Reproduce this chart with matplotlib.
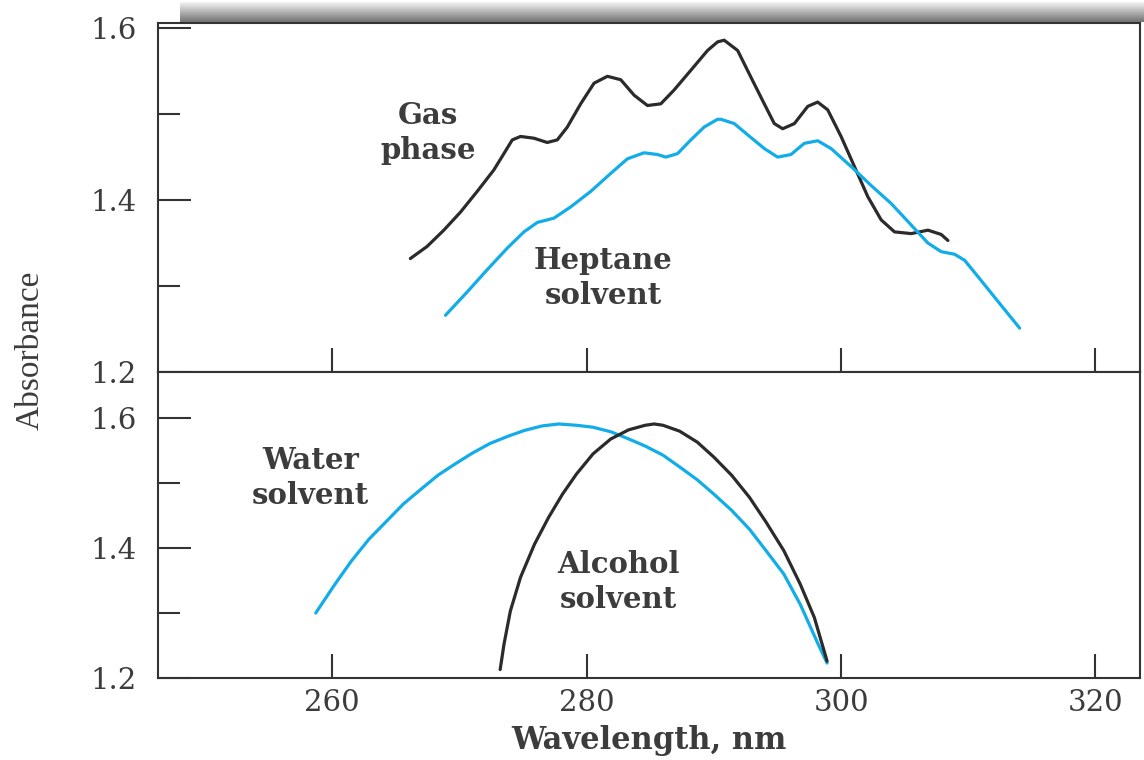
import matplotlib.pyplot as plt
import numpy as np

# gas phase / heptane solvent (top panel)
gas_wl = [266.14, 267.45, 268.77, 270.08, 271.39, 272.70, 273.49, 274.15, 274.80, 275.85,
          276.90, 277.69, 278.48, 279.53, 280.58, 281.63, 282.68, 283.73, 284.78, 285.83,
          286.87, 288.19, 289.50, 290.29, 290.81, 291.87, 292.91, 293.96, 294.75, 295.41,
          296.33, 297.38, 298.16, 298.95, 300.00, 301.05, 302.10, 303.15, 304.20, 305.51,
          306.83, 307.87, 308.40]
gas_abs = [1.332, 1.346, 1.365, 1.386, 1.410, 1.435, 1.454, 1.470, 1.474, 1.472,
           1.467, 1.470, 1.485, 1.512, 1.536, 1.544, 1.540, 1.522, 1.510, 1.512,
           1.528, 1.551, 1.574, 1.584, 1.586, 1.574, 1.543, 1.512, 1.489, 1.483,
           1.489, 1.509, 1.514, 1.505, 1.474, 1.439, 1.404, 1.377, 1.363, 1.361,
           1.365, 1.360, 1.353]
hep_wl = [268.90, 270.60, 272.18, 273.75, 275.07, 276.12, 277.43, 278.74, 280.31, 281.89,
          283.20, 284.51, 285.57, 286.22, 287.14, 288.19, 289.24, 290.29, 290.55, 291.60,
          292.65, 293.96, 295.01, 296.06, 297.11, 298.16, 299.21, 300.79, 302.36, 303.94,
          305.51, 306.83, 307.87, 308.92, 309.71, 310.76, 312.34, 314.04]
hep_abs = [1.266, 1.293, 1.319, 1.344, 1.363, 1.374, 1.379, 1.392, 1.410, 1.431,
           1.448, 1.455, 1.453, 1.450, 1.454, 1.470, 1.485, 1.494, 1.494, 1.489,
           1.476, 1.460, 1.450, 1.453, 1.466, 1.469, 1.460, 1.439, 1.417, 1.396,
           1.371, 1.350, 1.340, 1.337, 1.330, 1.311, 1.282, 1.251]

# water / alcohol solvent (bottom panel)
wat_wl = [258.7, 260.2, 261.5, 262.9, 264.3, 265.6, 267.0, 268.3, 269.7, 271.0,
          272.4, 273.8, 275.1, 276.5, 277.8, 279.2, 280.5, 281.9, 283.3, 284.6,
          286.0, 287.3, 288.7, 290.0, 291.4, 292.8, 294.1, 295.5, 296.8, 298.2, 298.9]
wat_abs = [1.300, 1.344, 1.380, 1.414, 1.442, 1.468, 1.491, 1.512, 1.530, 1.546,
           1.561, 1.572, 1.581, 1.588, 1.591, 1.589, 1.586, 1.579, 1.568, 1.557,
           1.543, 1.525, 1.505, 1.483, 1.458, 1.429, 1.396, 1.360, 1.313, 1.252, 1.223]
alc_wl = [273.2, 273.5, 274.0, 274.8, 275.9, 277.0, 278.1, 279.2, 280.5, 281.9,
          283.3, 284.6, 285.3, 286.0, 287.3, 288.7, 290.0, 291.4, 292.8, 294.1, 295.5,
          296.8, 297.9, 298.9]
alc_abs = [1.213, 1.252, 1.303, 1.355, 1.406, 1.447, 1.483, 1.514, 1.545, 1.568,
           1.582, 1.589, 1.591, 1.589, 1.580, 1.563, 1.540, 1.512, 1.478, 1.440, 1.396,
           1.344, 1.293, 1.226]

blue = '#12ADE8'
dark = '#2b2b2b'
txt = '#3c3c3c'
plt.rcParams['font.family'] = ['DejaVu Serif']

fig = plt.figure(figsize=(11.44, 7.6), dpi=100)
W, H = 1144., 760.
ax1 = fig.add_axes([158/W, (H-372)/H, 982/W, 349/H])
ax2 = fig.add_axes([158/W, (H-678)/H, 982/W, 306/H])

# grey shadow bar along the top
axb = fig.add_axes([180/W, (H-22)/H, 1-180/W, 20/H])
grad = np.linspace(0.95, 0.45, 50).reshape(-1, 1)
axb.imshow(grad, cmap='gray', vmin=0, vmax=1, aspect='auto')
axb.axis('off')

lkw = dict(lw=2.3, solid_joinstyle='round', solid_capstyle='round')
ax1.plot(gas_wl, gas_abs, color=dark, **lkw)
ax1.plot(hep_wl, hep_abs, color=blue, **lkw)
ax2.plot(wat_wl, wat_abs, color=blue, **lkw)
ax2.plot(alc_wl, alc_abs, color=dark, **lkw)

ax1.set_ylim(1.2, 1.606)
ax2.set_ylim(1.2, 1.671)
for ax in (ax1, ax2):
    ax.set_xlim(246.3, 323.5)
    ax.set_xticks([260, 280, 300, 320])
    ax.set_yticks([1.2, 1.4, 1.6])
    ax.set_yticks([1.3, 1.5], minor=True)
    ax.set_yticklabels(['1.2', '1.4', '1.6'])
    ax.tick_params(axis='y', which='major', direction='in', length=24, width=1.5,
                   color='#333333', labelsize=21, labelcolor=txt, pad=15)
    ax.tick_params(axis='y', which='minor', direction='in', length=16, width=1.5, color='#333333')
    ax.tick_params(axis='x', direction='in', length=17, width=1.5, color='#333333',
                   labelsize=21, labelcolor=txt, pad=8)
    for s in ax.spines.values():
        s.set_linewidth(1.5)
        s.set_color('#333333')
ax1.tick_params(axis='x', labelbottom=False)
ax2.set_xlabel('Wavelength, nm', fontsize=22, fontweight='bold', color=txt, labelpad=6)
fig.text(30/W, 1 - 350/H, 'Absorbance', rotation=90, fontsize=24, family='Liberation Serif',
         color=txt, ha='center', va='center')

kw = dict(fontsize=21, fontweight='bold', color=txt, ha='center', va='center', linespacing=1.25)
ax1.text(267.5, 1.478, 'Gas\nphase', **kw)
ax1.text(281.3, 1.309, 'Heptane\nsolvent', **kw)
ax2.text(258.3, 1.508, 'Water\nsolvent', **kw)
ax2.text(282.5, 1.348, 'Alcohol\nsolvent', **kw)

fig.savefig('out.png', dpi=100)
